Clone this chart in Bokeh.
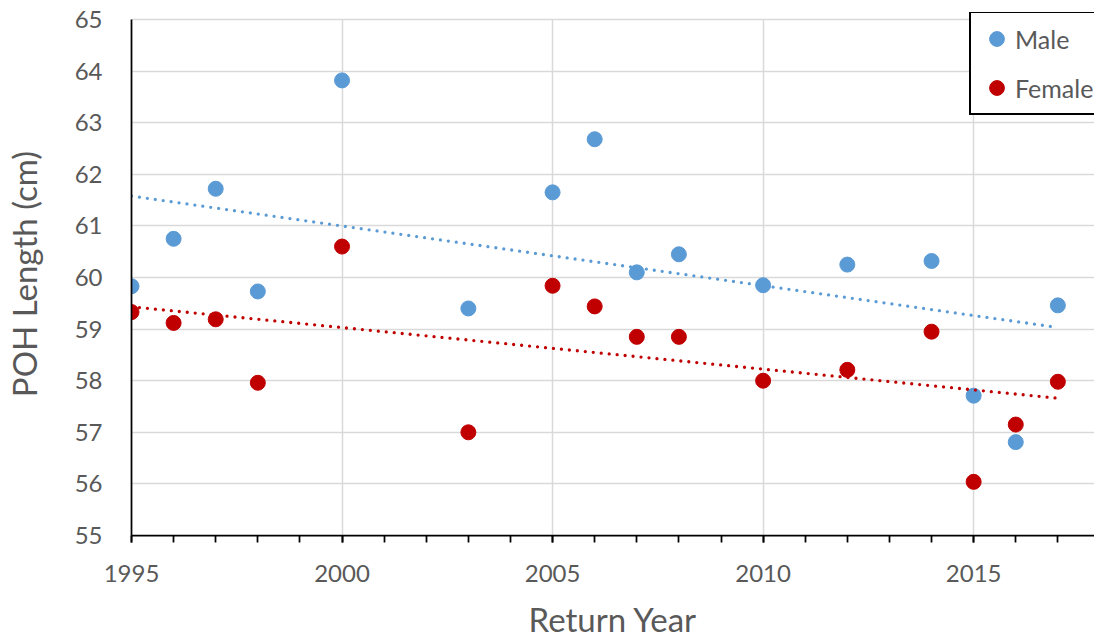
import numpy as np
from bokeh.plotting import figure
from bokeh.models import Legend, LegendItem, FixedTicker, Range1d
from bokeh.embed import file_html
from bokeh.resources import INLINE

# ---- data ----
years = [1995, 1996, 1997, 1998, 2000, 2003, 2005, 2006, 2007, 2008,
         2010, 2012, 2014, 2015, 2016, 2017]
male = [59.83, 60.75, 61.72, 59.73, 63.82, 59.40, 61.65, 62.68, 60.10, 60.45,
        59.85, 60.25, 60.32, 57.71, 56.81, 59.46]
female = [59.33, 59.12, 59.19, 57.96, 60.60, 57.00, 59.84, 59.44, 58.85, 58.85,
          58.00, 58.21, 58.95, 56.04, 57.15, 57.98]
x_major_ticks = [1995, 2000, 2005, 2010, 2015]
x_minor_ticks = list(range(1995, 2018))
y_ticks = [55, 56, 57, 58, 59, 60, 61, 62, 63, 64, 65]

MALE_C = "#5B9BD5"
FEMALE_C = "#C00000"
TXT_C = "#595959"
FONT = "Lato"

p = figure(width=1094, height=641, output_backend="svg", toolbar_location=None,
           x_range=Range1d(1995, 2017.87), y_range=Range1d(55, 65.136),
           min_border_left=131, min_border_right=0, min_border_top=12,
           min_border_bottom=106)
p.outline_line_color = None
p.background_fill_color = "white"

# grids
p.xgrid.ticker = FixedTicker(ticks=x_major_ticks)
p.ygrid.ticker = FixedTicker(ticks=y_ticks)
p.xgrid.cross_bounds = (55, 65)
for g in (p.xgrid, p.ygrid):
    g.grid_line_color = "#D9D9D9"
    g.grid_line_width = 1.5

# x axis
xa = p.xaxis[0]
xa.ticker = FixedTicker(ticks=x_major_ticks, minor_ticks=x_minor_ticks)
xa.axis_line_color = "black"
xa.axis_line_width = 1.75
xa.major_tick_line_color = "black"
xa.minor_tick_line_color = "black"
xa.major_tick_line_width = 1.75
xa.minor_tick_line_width = 1.75
xa.major_tick_in = 0
xa.major_tick_out = 7
xa.minor_tick_in = 0
xa.minor_tick_out = 7
xa.major_label_text_font = FONT
xa.major_label_text_font_size = "24px"
xa.major_label_text_color = TXT_C
xa.major_label_text_line_height = 1.0
xa.major_label_standoff = 22
xa.axis_label = "Return Year"
xa.axis_label_text_font = FONT
xa.axis_label_text_font_size = "33px"
xa.axis_label_text_font_style = "normal"
xa.axis_label_text_color = TXT_C
xa.axis_label_text_line_height = 1.0
xa.axis_label_standoff = 14

# y axis
ya = p.yaxis[0]
ya.ticker = FixedTicker(ticks=y_ticks)
ya.bounds = (55, 65)
ya.axis_line_color = "black"
ya.axis_line_width = 1.75
ya.major_tick_line_color = None
ya.minor_tick_line_color = None
ya.major_tick_in = 0
ya.major_tick_out = 0
ya.minor_tick_in = 0
ya.minor_tick_out = 0
ya.major_label_text_font = FONT
ya.major_label_text_font_size = "24px"
ya.major_label_text_color = TXT_C
ya.major_label_standoff = 29
ya.axis_label = "POH Length (cm)"
ya.axis_label_text_font = FONT
ya.axis_label_text_font_size = "33px"
ya.axis_label_text_font_style = "normal"
ya.axis_label_text_color = TXT_C
ya.axis_label_standoff = 28

# markers
r_m = p.scatter(years, male, size=15, marker="circle", fill_color=MALE_C,
                line_color=MALE_C)
r_f = p.scatter(years, female, size=15, marker="circle", fill_color=FEMALE_C,
                line_color=FEMALE_C)

# linear trend lines (least squares fit of the data above)
yrs = np.array(years, dtype=float)
tx = [years[0], years[-1]]
for vals, col in ((male, MALE_C), (female, FEMALE_C)):
    k, b = np.polyfit(yrs, np.array(vals), 1)
    p.line(tx, [k * tx[0] + b, k * tx[1] + b], line_color=col, line_width=3.3,
           line_dash="0 8", line_cap="round")

legend = Legend(items=[LegendItem(label="Male", renderers=[r_m]),
                       LegendItem(label="Female", renderers=[r_f])],
                location=(838, 420), margin=0, padding=7, spacing=12,
                label_height=37, glyph_height=37, glyph_width=37,
                label_standoff=0,
                border_line_color="black", border_line_width=2,
                border_line_alpha=1,
                background_fill_color="white", background_fill_alpha=1,
                label_text_font=FONT, label_text_font_size="25px",
                label_text_color=TXT_C)
p.add_layout(legend, "center")

open("out.html", "w").write(file_html(p, INLINE))
